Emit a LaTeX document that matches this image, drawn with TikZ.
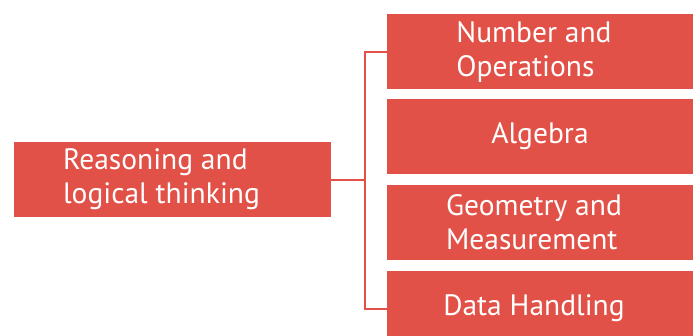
\documentclass[tikz,border=0pt]{standalone}
\usepackage{fontspec}
\setmainfont{PT Sans}
\definecolor{boxred}{RGB}{226,81,71}
\tikzset{
    topicbox/.style={fill=boxred, minimum height=75pt, inner sep=0pt},
    topictext/.style={text=white, inner sep=0pt, align=left,
        font=\fontsize{29.5}{34}\selectfont},
    link/.style={draw=boxred, line width=2pt}
}
\begin{document}
\begin{tikzpicture}[x=1pt, y=-1pt]
    \useasboundingbox (0, 0) rectangle (693, 335);
    % boxes
    \node [topicbox, minimum width=317pt] (reason) at (172.5, 179.5) {};
    \node [topicbox, minimum width=306pt] (number) at (540, 51.5) {};
    \node [topicbox, minimum width=306pt] (algebra) at (540, 136.5) {};
    \node [topicbox, minimum width=306pt] (geometry) at (540, 222.5) {};
    \node [topicbox, minimum width=306pt] (data) at (540, 308.5) {};
    % texts
    \node [topictext] (reasontext) at ([xshift=-11pt]reason.center)
        {Reasoning and\\logical thinking};
    \node [topictext] (numbertext) at ([xshift=-6pt]number.center)
        {Number and\\Operations};
    \node [topictext] (algebratext) at (algebra.center) {Algebra};
    \node [topictext] (geometrytext) at ([xshift=-6pt]geometry.center)
        {Geometry and\\Measurement};
    \node [topictext] (datatext) at ([xshift=-6pt]data.center)
        {Data Handling};
    % connectors
    \coordinate (fork) at (365, 179.5);
    \draw [link] (reason.east) -- (fork);
    \draw [link] (number.west) -| (fork) |- (data.west);
\end{tikzpicture}
\end{document}
